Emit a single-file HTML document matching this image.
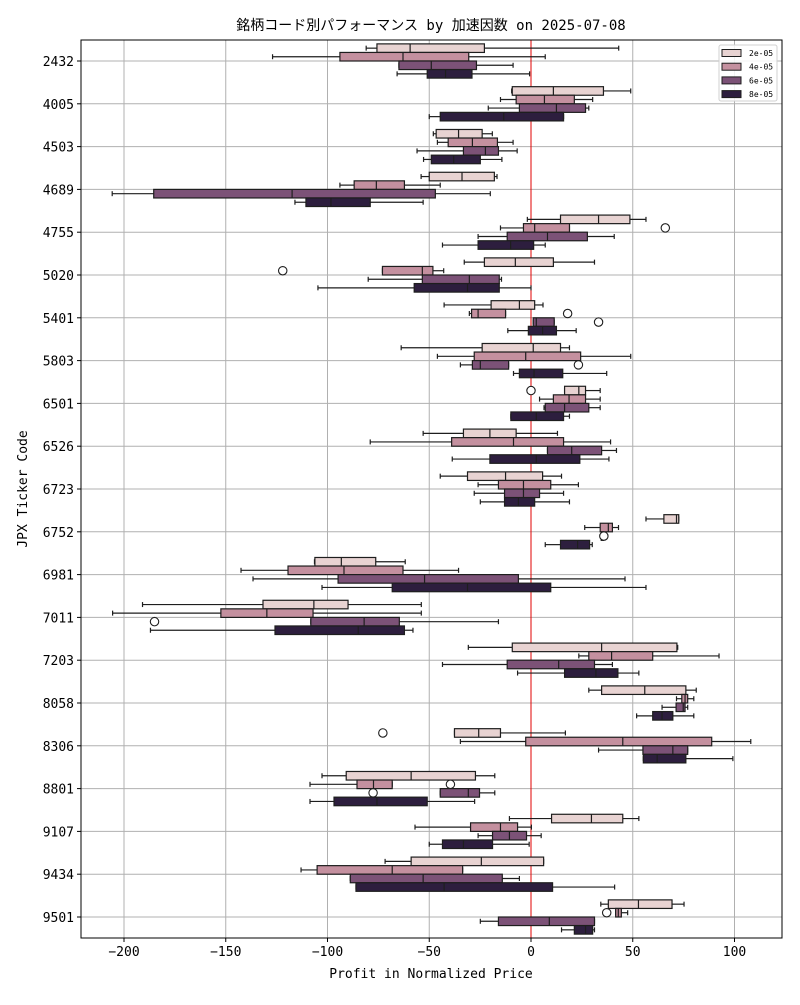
<!DOCTYPE html>
<html><head><meta charset="utf-8">
<style>
body{margin:0;background:#fff;}
svg text{font-family:"DejaVu Sans Mono","Liberation Mono","Noto Sans CJK JP",monospace;}
</style></head>
<body>
<svg id="chart" width="800" height="1000" xmlns="http://www.w3.org/2000/svg"></svg>
<script>
const tickers = ["2432","4005","4503","4689","4755","5020","5401","5803","6501","6526","6723","6752","6981","7011","7203","8058","8306","8801","9107","9434","9501"];
const hues = ["2e-05","4e-05","6e-05","8e-05"];
const colors = ["#e8d3d2","#c4909f","#7c5277","#2d1e3e"];
const xTicks = [-200,-150,-100,-50,0,50,100];
// each box: [whiskerLow, q1, median, q3, whiskerHigh, outliers]
const stats2e = [
 [-81,-75.7,-59.4,-22.9,43.1,[]],[-9.5,-9.2,11,35.6,49,[]],[-48,-46.6,-35.6,-24,-19,[]],[-54,-50,-33.9,-18,-16.7,[]],
 [-1.8,14.5,33.2,48.6,56.5,[]],[-32.8,-22.9,-7.7,11,31.2,[]],[-42.7,-19.6,-5.7,1.8,5.9,[]],[-63.8,-24,1.1,14.5,18.9,[]],
 [16.5,16.5,23.5,26.8,34,[0]],[-53,-33.2,-20.2,-7.3,13,[]],[-44.6,-31.2,-12.5,5.7,15,[]],[56.5,65.3,71.5,72.6,72.6,[]],
 [-106.4,-106.2,-93.2,-76.3,-61.8,[]],[-190.9,-131.7,-106.7,-89.9,-53.9,[]],[-30.8,-9.2,34.7,71.7,72.1,[]],[28.4,34.7,55.9,76.1,81.2,[]],
 [-37.6,-37.6,-25.7,-15,16.9,[-72.8]],[-102.7,-90.8,-58.9,-27.3,-17.8,[]],[-10.6,10.1,29.7,45.1,53,[]],[-71.7,-58.9,-24.4,6.2,6.2,[]],[34.3,38,52.8,69.3,75.2,[]]
];
const stats4e = [
 [-127,-93.9,-62.9,-30.6,7,[]],[-15,-7.3,6.6,21.3,30.3,[]],[-46,-40.7,-28.8,-16.5,-8.8,[]],[-93.9,-86.9,-76,-62.2,-44.6,[]],
 [-15,-3.7,1.8,18.9,18.9,[66]],[-73,-73,-53.4,-48.2,-42.9,[-122]],[-30.3,-29.2,-26,-12.5,-12.5,[18]],[-46,-27.9,-2.6,24.4,49,[]],
 [4.2,11,18.7,26.8,34,[]],[-79,-39,-8.6,16,39.1,[]],[-26,-16,-3.7,9.7,23.3,[]],[26.4,34,38,40,43,[]],
 [-142.5,-119.4,-91.9,-62.9,-35.6,[]],[-205.6,-152.4,-129.8,-107.1,-53.9,[]],[23.5,28.4,39.6,59.8,92.4,[]],[71.5,74.1,75.7,77,80,[]],
 [-34.7,-2.6,45.1,88.8,108,[]],[-108.6,-85.5,-77.4,-68.2,-68.2,[-39.6]],[-57,-29.7,-15,-6.6,0.2,[]],[-113,-105.1,-68.2,-33.6,-33.6,[]],[41.6,41.6,42.9,44.4,47.5,[37.2]]
];
const stats6e = [
 [-64.9,-64.9,-49,-26.8,-8.8,[]],[-21,-5.7,12.5,26.8,28.4,[]],[-56,-33.2,-22.4,-16,-6.8,[]],[-205.8,-185.4,-117.4,-47,-20,[]],
 [-26,-11.7,8.1,27.7,40.9,[]],[-80,-53.4,-30.3,-15.6,-14.5,[]],[1.1,1.1,2.6,11.4,11.4,[33.2]],[-34.7,-28.8,-24.9,-11,-11,[23.3]],
 [6.4,7,16.5,28.4,34,[]],[8.1,8.1,20,34.7,42,[]],[-27.9,-13,-3.7,4.2,16,[]],[34.2,34.5,35,35.6,36,[35.8]],
 [-136.6,-94.8,-52.3,-6.2,46.2,[]],[-108.2,-108.2,-82,-64.7,-16,[-185]],[-43.5,-11.7,13.6,31.2,40,[]],[64.4,71.3,74.8,75.7,77,[]],
 [33.2,55,69.7,77,77,[]],[-44.6,-44.6,-30.8,-25.3,-17.8,[-77.6]],[-26,-18.9,-10.6,-2.2,5,[]],[-88.8,-88.8,-53,-14.1,-5.7,[]],[-24.9,-16,9,31.2,31.2,[]]
];
const stats8e = [
 [-65.8,-51,-42,-29,-0.7,[]],[-50,-44.6,-13.4,16,16,[]],[-52.8,-49,-38,-24.9,-14.3,[]],[-116,-110.6,-98.3,-79,-53,[]],
 [-43.5,-26,-10,1.3,7,[]],[-104.7,-57.4,-31.2,-15.6,0,[]],[-11.4,-1.3,5.7,12.5,22.2,[]],[-8.6,-5.7,1.5,15.6,37.2,[]],
 [-9.9,-9.9,2.6,16,18.9,[]],[-38.7,-20.2,2.6,24,38.3,[]],[-24.9,-13,-6.2,1.8,18.9,[]],[7,14.5,22.9,28.8,30.1,[]],
 [-102.7,-68.2,-31.2,9.7,56.5,[]],[-187,-125.8,-84.9,-62.2,-58,[]],[-6.6,16.5,31.9,42.7,53,[]],[51.9,59.8,64.4,69.7,80,[]],
 [55.2,55.2,62,76.1,99.2,[]],[-108.6,-96.8,-75.7,-51,-27.7,[]],[-50,-43.5,-33.2,-18.9,-0.9,[]],[-86,-86,-42.7,10.6,41.1,[]],[15,21.3,26.8,30.3,31.2,[]]
];
const allStats = [stats2e, stats4e, stats6e, stats8e];

const svg = document.getElementById('chart');
const NS = "http://www.w3.org/2000/svg";
const L=81, R=782, T=40, B=938;
const xs = v => 531 + v*2.035;
const ys = i => 61 + i*42.8;
const bh = 8.56;
function mk(tag, attrs, parent){const e=document.createElementNS(NS,tag);for(const k in attrs)e.setAttribute(k,attrs[k]);(parent||svg).appendChild(e);return e;}

// grid
xTicks.forEach(t=>{
  const g = mk('line',{x1:xs(t),x2:xs(t),y1:T,y2:B,stroke:'#b0b0b0','stroke-width':1});
  
  
  const tk = mk('line',{x1:xs(t),x2:xs(t),y1:B,y2:B+4,stroke:'#000','stroke-width':1});
  
  
  const lb = mk('text',{x:xs(t),y:B+18,'text-anchor':'middle','font-size':13,fill:'#000'});
  lb.textContent = (t<0?'\u2212'+(-t):t);
  
  
});
tickers.forEach((tk,i)=>{
  const g = mk('line',{x1:L,x2:R,y1:ys(i),y2:ys(i),stroke:'#b0b0b0','stroke-width':1});
  
  
  const t = mk('line',{x1:L-4,x2:L,y1:ys(i),y2:ys(i),stroke:'#000','stroke-width':1});
  
  
  const lb = mk('text',{x:L-7,y:ys(i)+5,'text-anchor':'end','font-size':13,fill:'#000'});
  lb.textContent = tk;
  
  
});
// zero line
const zl = mk('line',{x1:xs(0),x2:xs(0),y1:T,y2:B,stroke:'#e00000','stroke-width':1});



// boxes
allStats.forEach((series,h)=>{
  series.forEach((s,i)=>{
    const cy = ys(i) + (h-1.5)*bh;
    const g = mk('g',{});
    
    
    const st = {stroke:'#1e1e1e','stroke-width':1.2};
    mk('line',Object.assign({x1:xs(s[0]),x2:xs(s[1]),y1:cy,y2:cy},st),g);
    mk('line',Object.assign({x1:xs(s[3]),x2:xs(s[4]),y1:cy,y2:cy},st),g);
    mk('line',Object.assign({x1:xs(s[0]),x2:xs(s[0]),y1:cy-2.5,y2:cy+2.5},st),g);
    mk('line',Object.assign({x1:xs(s[4]),x2:xs(s[4]),y1:cy-2.5,y2:cy+2.5},st),g);
    mk('rect',Object.assign({x:xs(s[1]),y:cy-bh/2,width:Math.max(1,xs(s[3])-xs(s[1])),height:bh,fill:colors[h]},st),g);
    mk('line',Object.assign({x1:xs(s[2]),x2:xs(s[2]),y1:cy-bh/2,y2:cy+bh/2},st),g);
    s[5].forEach(o=>{
      const c = mk('circle',{cx:xs(o),cy:cy,r:4.2,fill:'#fff',stroke:'#1e1e1e','stroke-width':1.1},g);
      
      
    });
  });
});

// frame
const fr = mk('rect',{x:L,y:T,width:R-L,height:B-T,fill:'none',stroke:'#000','stroke-width':1});



// legend
const lg = mk('g',{});


mk('rect',{x:719,y:45,width:58,height:56,rx:2,fill:'#fff','fill-opacity':0.85,stroke:'#d0d0d0'},lg);
hues.forEach((h,k)=>{
  const yy = 53 + k*13.7;
  const e = mk('g',{},lg);
  
  
  mk('rect',{x:722,y:yy-3.5,width:19,height:7,fill:colors[k],stroke:'#1e1e1e','stroke-width':1},e);
  const t = mk('text',{x:749,y:yy+3,'font-size':8,fill:'#000'},e);
  t.textContent = h;
});

// titles
const tt = mk('text',{x:431,y:30,'text-anchor':'middle','font-size':14,fill:'#000'});
tt.textContent = '銘柄コード別パフォーマンス by 加速因数 on 2025-07-08';


const xl = mk('text',{x:431,y:978,'text-anchor':'middle','font-size':13,fill:'#000'});
xl.textContent = 'Profit in Normalized Price';


const yl = mk('text',{x:27,y:489,'text-anchor':'middle','font-size':13,fill:'#000',transform:'rotate(-90 27 489)'});
yl.textContent = 'JPX Ticker Code';


</script>
</body></html>
